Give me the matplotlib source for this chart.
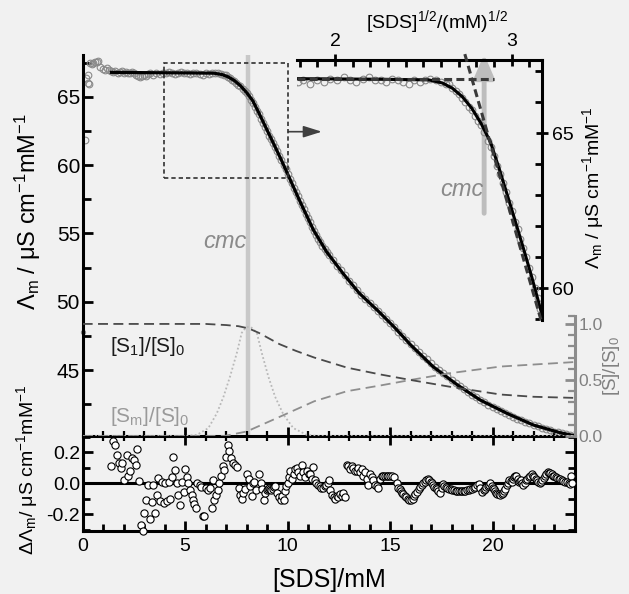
import numpy as np
import matplotlib
matplotlib.use('Agg')
import matplotlib.pyplot as plt
from matplotlib.ticker import MultipleLocator, FixedLocator
from matplotlib.patches import Rectangle

plt.rcParams['font.family'] = ['Liberation Sans', 'DejaVu Sans']
plt.rcParams['mathtext.fontset'] = 'custom'
plt.rcParams['mathtext.rm'] = 'Liberation Sans'
plt.rcParams['mathtext.it'] = 'Liberation Sans:italic'
plt.rcParams['mathtext.bf'] = 'Liberation Sans:bold'
plt.rcParams['axes.unicode_minus'] = False

# ---------------- data ----------------
# measured molar conductivity (gray open circles)
conc = [0.0, 0.11, 0.16, 0.24, 0.27, 0.30, 0.36, 0.44, 0.52, 0.60, 0.68, 0.76, 0.85, 1.0, 1.1, 1.2, 1.3,
        1.4, 1.5, 1.6, 1.7, 1.8, 1.9, 2.0, 2.1, 2.2, 2.3, 2.4, 2.5, 2.6, 2.7, 2.8, 2.9, 3.0, 3.1, 3.2, 3.3,
        3.45, 3.6, 3.75, 3.9, 4.05, 4.2, 4.35, 4.5, 4.65, 4.8, 4.95, 5.1, 5.25, 5.4, 5.55, 5.7, 5.85, 6.0,
        6.15, 6.3, 6.45, 6.6, 6.75, 6.9,
        7.0, 7.1, 7.2, 7.3, 7.4, 7.5, 7.6, 7.7, 7.8, 7.9, 8.0, 8.1, 8.2, 8.3, 8.4, 8.5, 8.6, 8.7, 8.8, 8.9,
        9.0, 9.1, 9.2, 9.3, 9.4, 9.5, 9.6, 9.7, 9.8, 9.9, 10.0, 10.1, 10.2, 10.3, 10.4, 10.5, 10.6, 10.7,
        10.8, 10.9, 11.0, 11.1, 11.2, 11.3, 11.4, 11.5, 11.6, 11.7, 11.8, 11.9, 12.0,
        12.2, 12.4, 12.6, 12.8, 13.0, 13.2, 13.4, 13.6, 13.8, 14.0, 14.2, 14.4, 14.6, 14.8, 15.0, 15.2,
        15.4, 15.6, 15.8, 16.0, 16.2, 16.4, 16.6, 16.8, 17.0, 17.2, 17.4, 17.6, 17.8, 18.0, 18.2, 18.4,
        18.6, 18.8, 19.0, 19.2, 19.4, 19.6, 19.8, 20.0, 20.2, 20.4, 20.6, 20.8, 21.0, 21.2, 21.4, 21.6,
        21.8, 22.0, 22.2, 22.4, 22.6, 22.8, 23.0, 23.2, 23.4, 23.6, 23.8, 24.0]
lam = [47.77, 61.8, 66.35, 66.6, 66.0, 65.95, 67.44, 67.4, 67.5, 67.56, 67.55, 67.6, 67.2, 67.05, 66.95, 67.1, 66.95,
       66.85, 66.8, 66.9, 66.75, 66.8, 66.85, 66.7, 66.8, 66.75, 66.7, 66.8, 66.75, 66.6, 66.5, 66.45, 66.5, 66.6, 66.55, 66.65, 66.7,
       66.6, 66.7, 66.65, 66.75, 66.7, 66.8, 66.7, 66.65, 66.75, 66.8, 66.7, 66.7, 66.65, 66.75, 66.7, 66.65, 66.6, 66.7,
       66.65, 66.7, 66.75, 66.7, 66.65, 66.6,
       66.6, 66.45, 66.35, 66.25, 66.15, 66.0, 65.85, 65.75, 65.55, 65.4, 65.25, 65.05, 64.75, 64.55, 64.25, 63.95, 63.7, 63.4, 63.1, 62.75,
       62.5, 62.15, 61.9, 61.6, 61.3, 61.0, 60.65, 60.35, 60.0, 59.7, 59.35, 59.0, 58.7, 58.35, 58.0, 57.7, 57.35, 57.05,
       56.75, 56.45, 56.1, 55.8, 55.5, 55.15, 54.9, 54.6, 54.35, 54.1, 53.85, 53.65, 53.45,
       53.05, 52.65, 52.3, 51.95, 51.55, 51.2, 50.85, 50.5, 50.2, 49.9, 49.6, 49.35, 49.05, 48.75, 48.45, 48.15,
       47.8, 47.5, 47.2, 46.9, 46.65, 46.35, 46.05, 45.8, 45.5, 45.25, 45.0, 44.8, 44.55, 44.3, 44.05, 43.85,
       43.6, 43.4, 43.2, 43.0, 42.8, 42.65, 42.45, 42.3, 42.15, 42.0, 41.85, 41.7, 41.6, 41.45, 41.35, 41.2,
       41.1, 41.0, 40.9, 40.8, 40.7, 40.6, 40.5, 40.45, 40.38, 40.32, 40.25, 40.2]

# fitted curve (black line)
fit_x = [1.4, 3.0, 5.0, 6.4, 6.8, 7.1, 7.4, 7.7, 8.0, 8.3, 8.6, 9.0, 9.4, 9.7, 10.0, 10.6, 11.26, 11.9,
         12.7, 13.5, 14.4, 15.2, 16.0, 17.1, 18.3, 19.4, 20.7, 22.0, 23.3, 24.0]
fit_lam = [66.78, 66.76, 66.74, 66.72, 66.62, 66.45, 66.18, 65.8, 65.3, 64.7, 63.8, 62.55, 61.3, 60.35, 59.35,
           57.35, 55.25, 53.66, 52.08, 50.62, 49.35, 48.15, 46.85, 45.25, 43.9, 42.81, 41.84, 40.98, 40.42, 40.2]

# residuals
res_x = [1.37, 1.49, 1.60, 1.68, 1.78, 1.86, 1.94, 2.03, 2.14, 2.22, 2.30, 2.42, 2.52, 2.58, 2.66, 2.76, 2.84,
         2.94, 3.00, 3.07, 3.19, 3.28, 3.36, 3.45, 3.53, 3.61, 3.69, 3.77, 3.89, 3.95, 4.02, 4.13, 4.23, 4.28,
         4.36, 4.43, 4.51, 4.59, 4.67, 4.77, 4.87, 4.92, 5.00, 5.08, 5.13, 5.23, 5.31, 5.36, 5.44, 5.52, 5.60,
         5.70, 5.77, 5.86, 5.93, 6.03, 6.11, 6.20, 6.30, 6.37, 6.43, 6.50, 6.60, 6.67, 6.73, 6.83, 6.91, 7.00,
         7.07, 7.16, 7.25, 7.33, 7.42, 7.53, 7.61, 7.70, 7.78, 7.84, 7.94, 8.02, 8.10, 8.17, 8.24,
         8.30, 8.37, 8.45, 8.60, 8.68, 8.75, 8.85, 8.92, 8.98, 9.05, 9.10, 9.15, 9.20, 9.27, 9.33, 9.40,
         9.50, 9.58, 9.66, 9.74, 9.80, 9.86, 9.93, 10.00, 10.05, 10.12, 10.20, 10.29, 10.37, 10.45, 10.53,
         10.61, 10.70, 10.77, 10.85, 10.94, 11.02, 11.10, 11.18, 11.26, 11.32, 11.40, 11.48, 11.56, 11.64,
         11.72, 11.80, 11.88, 11.96, 12.02, 12.07, 12.15, 12.24, 12.32, 12.40, 12.48, 12.56, 12.64, 12.72,
         12.80, 12.89, 12.97, 13.05, 13.13, 13.21, 13.29, 13.37, 13.45, 13.54, 13.62, 13.70, 13.78, 13.86,
         13.94, 14.02, 14.10, 14.19, 14.27, 14.35, 14.43, 14.51, 14.59, 14.67, 14.75, 14.84, 14.92, 15.00,
         15.08, 15.19, 15.32, 15.40, 15.46, 15.52, 15.58, 15.65, 15.72, 15.78, 15.86, 15.94, 16.02, 16.10,
         16.16, 16.22, 16.30, 16.39, 16.47, 16.55, 16.63, 16.71, 16.77, 16.83, 16.92, 16.98, 17.04, 17.10,
         17.15, 17.22, 17.28, 17.36, 17.45, 17.52, 17.58, 17.65, 17.72, 17.80, 17.88, 17.96, 18.04, 18.12,
         18.20, 18.28, 18.36, 18.44, 18.52, 18.60, 18.68, 18.76, 18.84, 18.92, 19.00, 19.08, 19.16, 19.24,
         19.32, 19.40, 19.48, 19.56, 19.64, 19.70, 19.77, 19.83, 19.89, 19.96, 20.02, 20.08, 20.13, 20.19,
         20.24, 20.30, 20.37, 20.44, 20.50, 20.56, 20.62, 20.70, 20.76, 20.81, 20.88, 20.94, 21.00, 21.06,
         21.11, 21.16, 21.22, 21.27, 21.33, 21.38, 21.45, 21.51, 21.57, 21.64, 21.70, 21.77, 21.84, 21.92,
         21.98, 22.03, 22.10, 22.16, 22.23, 22.30, 22.36, 22.42, 22.50, 22.57, 22.63, 22.69, 22.76, 22.82,
         22.88, 22.95, 23.02, 23.08, 23.15, 23.22, 23.30, 23.38, 23.46, 23.55, 23.63, 23.71, 23.79, 23.83, 23.88]
res_val = [0.11, 0.27, 0.245, 0.18, 0.13, 0.10, 0.13, 0.02, 0.18, 0.05, 0.08, 0.16, 0.15, 0.12, 0.22, 0.015, -0.27,
           -0.305, -0.195, -0.105, -0.013, -0.23, -0.12, -0.013, -0.19, -0.077, 0.037, -0.116, 0.008, -0.127, 0.0, -0.116, 0.01, -0.10,
           0.04, 0.17, 0.085, 0.002, -0.077, -0.14, 0.01, -0.056, 0.095, 0.04, 0.0, -0.045, -0.077, -0.11, -0.135, -0.16, 0.0,
           -0.013, -0.024, -0.21, -0.21, -0.028, -0.045, -0.028, -0.16, 0.024, -0.11, -0.077, -0.045, 0.002, 0.05, 0.11, 0.088, 0.17,
           0.245, 0.21, 0.16, 0.13, 0.116, 0.105, -0.03, -0.077, -0.10, -0.066, -0.035, 0.063, 0.03, -0.02, -0.084,
           0.0, 0.01, -0.045, 0.06, 0.0, -0.04, -0.11, -0.06, -0.045, -0.04, -0.03, -0.035, -0.045, -0.04, -0.025, -0.02,
           -0.06, -0.09, -0.11, -0.08, -0.11, -0.05, -0.02, 0.0, 0.04, 0.08, 0.03, 0.06, 0.09, 0.10, 0.07,
           0.05, 0.12, 0.07, 0.04, 0.08, 0.06, 0.06, 0.03, 0.105, 0.02, 0.0, -0.01, -0.02, -0.03,
           -0.03, -0.02, -0.01, 0.0, 0.02, -0.045, -0.077, -0.09, -0.10, -0.08, -0.09, -0.07, -0.08, -0.06,
           -0.09, 0.12, 0.11, 0.09, 0.11, 0.10, 0.08, 0.08, 0.10, 0.07, 0.09, 0.05, 0.07, 0.03,
           -0.01, 0.06, 0.04, 0.02, -0.01, -0.02, -0.03, 0.03, 0.05, 0.05, 0.05, 0.05, 0.05, 0.05,
           0.05, 0.04, 0.0, -0.03, -0.04, -0.05, -0.06, -0.07, -0.08, -0.09, -0.10, -0.11, -0.105, -0.1,
           -0.08, -0.067, -0.055, -0.04, -0.027, -0.013, 0.0, 0.008, 0.02, 0.03, 0.02, 0.01, 0.0, -0.012,
           -0.024, -0.03, -0.04, -0.05, -0.063, -0.03, -0.005, -0.015, -0.022, -0.03, -0.035, -0.04, -0.043, -0.046,
           -0.048, -0.05, -0.05, -0.05, -0.05, -0.05, -0.048, -0.046, -0.043, -0.04, -0.035, -0.03, -0.022, -0.012,
           -0.005, -0.03, -0.056, -0.045, -0.035, -0.025, -0.015, -0.008, 0.0, -0.015, -0.03, -0.04, -0.05, -0.06,
           -0.067, -0.072, -0.077, -0.07, -0.06, -0.048, -0.035, -0.013, 0.0, 0.02, 0.015, 0.01, 0.025, 0.04,
           0.045, 0.05, 0.03, 0.01, 0.015, 0.02, 0.0, -0.013, 0.0, 0.02, 0.03, 0.04, 0.05, 0.058,
           0.05, 0.04, 0.03, 0.02, 0.01, 0.002, 0.01, 0.02, 0.035, 0.05, 0.06, 0.07, 0.068, 0.065,
           0.058, 0.05, 0.045, 0.04, 0.035, 0.03, 0.025, 0.02, 0.015, 0.01, 0.006, 0.0, -0.002, 0.05, 0.0]

# fractions on the right-hand scale
s1_x = [0.0, 6.0, 7.0, 7.6, 8.1, 8.6, 9.6, 10.4, 11.3, 12.9, 14.5, 16.0, 17.9, 20.4, 22.0, 24.0]
s1_frac = [1.0, 1.0, 0.99, 0.98, 0.96, 0.92, 0.82, 0.76, 0.70, 0.61, 0.55, 0.50, 0.44, 0.37, 0.35, 0.34]
sm_x = [0.0, 6.9, 8.0, 9.6, 11.3, 12.9, 14.5, 16.0, 17.9, 20.4, 24.0]
sm_frac = [0.0, 0.0, 0.04, 0.17, 0.31, 0.40, 0.45, 0.50, 0.56, 0.62, 0.66]
bell_x = [0.0, 5.0, 5.57, 6.13, 6.54, 6.87, 7.19, 7.52, 7.76, 7.95, 8.1, 8.25, 8.5, 8.74, 9.06, 9.39,
          9.8, 10.28, 10.94, 11.5, 24.0]
bell_y = [0.0, 0.0, 0.01, 0.07, 0.20, 0.35, 0.53, 0.74, 0.92, 0.965, 0.976, 0.965, 0.92, 0.74, 0.53, 0.35,
          0.19, 0.07, 0.01, 0.0, 0.0]

cmc = 8.09
box_x = (3.97, 10.04)
box_y = (59.07, 67.44)
arrow_y = 62.44
arrow_end = 11.67
pre_line_x = [1.787, 2.90]
pre_line_y = [66.75, 66.75]
post_line_x = [2.735, 3.165]
post_line_y = [67.55, 59.0]

# ---------------- figure ----------------
W, H = 629, 594
BG = '#f1f1f1'
fig = plt.figure(figsize=(W / 100, H / 100), dpi=100, facecolor=BG)


def rect(l, t, r, b):
    return [l / W, 1 - b / H, (r - l) / W, (b - t) / H]


def fx(px):
    return px / W


def fy(py):
    return 1 - py / H


ax = fig.add_axes(rect(82.7, 55, 574.5, 436))
axr = fig.add_axes(rect(82.7, 436, 574.5, 531))
axs = ax.twinx()
axi = fig.add_axes(rect(297.3, 60, 541.7, 320))
for a in (ax, axr, axs, axi):
    a.set_facecolor('none')

GRAYC = '#8a8a8a'

# main panel
ax.axvline(cmc, color='#c8c8c8', lw=3.2, zorder=1)
ax.plot(conc[1:], lam[1:], 'o', ms=4.8, mfc='none', mec=GRAYC, mew=0.8, zorder=2)
ax.plot(conc[:1], lam[:1], 'o', ms=3.0, mfc='none', mec=GRAYC, mew=0.8, zorder=2, clip_on=False)
ax.plot(fit_x, fit_lam, color='black', lw=2.3, zorder=3)
ax.add_patch(Rectangle((box_x[0], box_y[0]), box_x[1] - box_x[0], box_y[1] - box_y[0],
                       fill=False, ec='#303030', lw=1.2, ls=(0, (2.6, 1.8)), zorder=4))
ax.annotate('', xy=(arrow_end, arrow_y), xytext=(box_x[1], arrow_y), annotation_clip=False,
            arrowprops=dict(arrowstyle='-|>,head_length=0.7,head_width=0.22', color='#404040', lw=1.2,
                            mutation_scale=16, shrinkA=0, shrinkB=0))
ax.text(cmc - 0.1, 54.44, 'cmc', style='italic', color='#8a8a8a', fontsize=17, ha='right', va='center')

ax.set_xlim(0, 24)
ax.set_ylim(40.18, 68.05)
ax.spines['top'].set_visible(False)
ax.spines['right'].set_visible(False)
for s in ('left', 'bottom'):
    ax.spines[s].set_linewidth(2.2)
ax.set_yticks([45, 50, 55, 60, 65])
ax.yaxis.set_minor_locator(MultipleLocator(2.5))
ax.set_xticks([0, 5, 10, 15, 20])
ax.xaxis.set_minor_locator(MultipleLocator(1))
ax.tick_params(axis='x', which='major', direction='inout', length=13, width=2, labelbottom=False)
ax.tick_params(axis='x', which='minor', direction='inout', length=7, width=1.6)
ax.tick_params(axis='y', which='major', direction='in', length=7, width=2, labelsize=15, pad=2, right=False)
ax.tick_params(axis='y', which='minor', direction='in', length=6, width=2, right=False)

# right scale: fractions
axs.plot(bell_x, bell_y, color='#b8b8b8', lw=1.3, ls=(0, (1, 1.3)), zorder=2)
axs.plot(sm_x, sm_frac, color='#8e8e8e', lw=1.3, ls=(0, (5.5, 3.0)), zorder=3)
axs.plot(s1_x, s1_frac, color='#4a4a4a', lw=1.3, ls=(0, (5.5, 3.0)), zorder=3)
axs.set_ylim(0, 3.40)
for s in ('left', 'top', 'bottom'):
    axs.spines[s].set_visible(False)
axs.spines['right'].set_color('#8c8c8c')
axs.spines['right'].set_linewidth(2.2)
axs.spines['right'].set_bounds(0, 1.07)
axs.set_yticks([0.0, 0.5, 1.0])
axs.set_yticklabels(['0.0', '0.5', '1.0'])
axs.yaxis.set_minor_locator(FixedLocator([0.1, 0.2, 0.3, 0.4, 0.6, 0.7, 0.8, 0.9, 1.07]))
axs.tick_params(axis='y', which='major', direction='in', length=7, width=2, colors='#8c8c8c',
                labelcolor='#808080', labelsize=12.5, pad=3)
axs.tick_params(axis='y', which='minor', direction='in', length=5, width=1.6, colors='#8c8c8c')

# residual panel
axr.axhline(0, color='black', lw=2.2, zorder=1)
axr.plot(res_x, res_val, 'o', ms=5.2, mfc='white', mec='black', mew=0.8, zorder=3, clip_on=False)
axr.set_xlim(0, 24)
axr.set_ylim(-0.308, 0.305)
axr.spines['top'].set_visible(False)
for s in ('left', 'right', 'bottom'):
    axr.spines[s].set_linewidth(2.2)
axr.set_yticks([-0.2, 0.0, 0.2])
axr.set_yticklabels(['-0.2', '0.0', '0.2'])
axr.yaxis.set_minor_locator(MultipleLocator(0.1))
axr.set_xticks([0, 5, 10, 15, 20])
axr.xaxis.set_minor_locator(MultipleLocator(1))
axr.tick_params(axis='y', which='major', direction='in', length=7, width=2, left=True, right=True,
                labelsize=14, pad=2)
axr.tick_params(axis='y', which='minor', direction='in', length=5, width=2, left=True, right=True)
axr.tick_params(axis='x', which='major', direction='in', length=7, width=2, labelsize=14, pad=5)
axr.tick_params(axis='x', which='minor', direction='in', length=5, width=2)

# inset
axi.plot(np.sqrt(conc), lam, 'o', ms=4.8, mfc='none', mec=GRAYC, mew=0.8, zorder=2)
axi.plot(np.sqrt(fit_x), fit_lam, color='black', lw=2.2, zorder=3)
axi.plot(pre_line_x, pre_line_y, color='#3a3a3a', lw=2.2, ls=(0, (2.6, 1.4)), zorder=4)
axi.plot(post_line_x, post_line_y, color='#3a3a3a', lw=2.2, ls=(0, (2.6, 1.4)), zorder=4, clip_on=False)
axi.annotate('', xy=(np.sqrt(cmc), 67.55), xytext=(np.sqrt(cmc), 62.42), annotation_clip=False,
             arrowprops=dict(arrowstyle='-|>,head_length=0.7,head_width=0.3', color='#bdbdbd', lw=3.5,
                             mutation_scale=20, shrinkA=0, shrinkB=0), zorder=1)
axi.text(np.sqrt(cmc) - 0.005, 63.17, 'cmc', style='italic', color='#8a8a8a', fontsize=17,
         ha='right', va='center')
axi.set_xlim(1.787, 3.17)
axi.set_ylim(58.98, 67.36)
axi.spines['left'].set_visible(False)
axi.spines['bottom'].set_visible(False)
for s in ('top', 'right'):
    axi.spines[s].set_linewidth(2.2)
axi.xaxis.tick_top()
axi.yaxis.tick_right()
axi.set_xticks([2, 3])
axi.xaxis.set_minor_locator(MultipleLocator(0.1))
axi.set_yticks([60, 65])
axi.yaxis.set_minor_locator(MultipleLocator(1))
axi.tick_params(axis='both', which='major', direction='inout', length=9, width=2, labelsize=14, pad=3)
axi.tick_params(axis='both', which='minor', direction='in', length=5, width=2)

# labels
fig.text(fx(28), fy(212), 'Λ$_\\mathrm{m}$ / μS cm$^{-1}$mM$^{-1}$', rotation=90, ha='center', va='center',
         fontsize=17)
fig.text(fx(27), fy(470), 'ΔΛ$_\\mathrm{m}$/ μS cm$^{-1}$mM$^{-1}$', rotation=90, ha='center', va='center',
         fontsize=14)
fig.text(fx(329), fy(580), '[SDS]/mM', ha='center', va='center', fontsize=18)
fig.text(fx(437), fy(22), '[SDS]$^{1/2}$/(mM)$^{1/2}$', ha='center', va='center', fontsize=14)
fig.text(fx(593), fy(188), 'Λ$_\\mathrm{m}$ / μS cm$^{-1}$mM$^{-1}$', rotation=90, ha='center', va='center',
         fontsize=14)
fig.text(fx(611), fy(366), '[S]/[S]$_0$', rotation=90, ha='center', va='center', fontsize=13.5, color='#808080')
fig.text(fx(110), fy(346), '[S$_1$]/[S]$_0$', ha='left', va='center', fontsize=15, color='#1a1a1a')
fig.text(fx(110), fy(416), '[S$_\\mathrm{m}$]/[S]$_0$', ha='left', va='center', fontsize=15, color='#9a9a9a')

fig.savefig('out.png', dpi=100, facecolor=BG)
